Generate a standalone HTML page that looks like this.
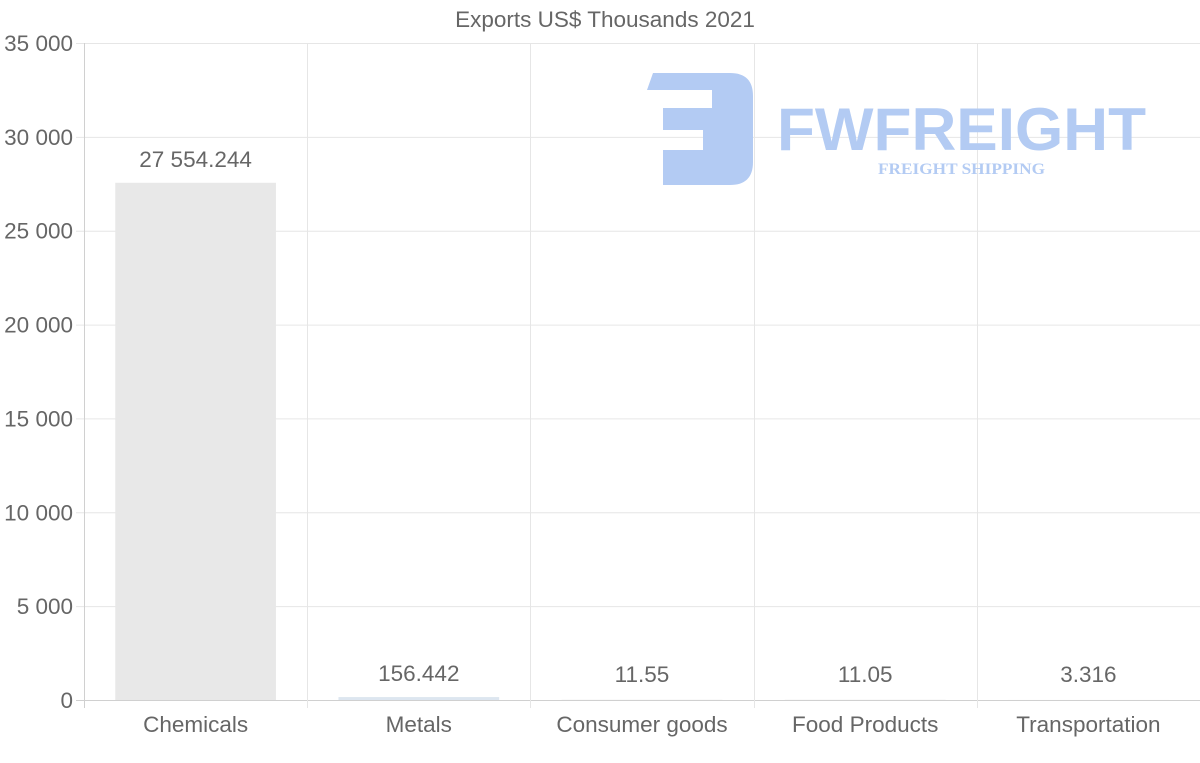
<!DOCTYPE html>
<html><head><meta charset="utf-8"><style>
html,body{margin:0;padding:0;background:#fff;}
svg{display:block;font-family:"Liberation Sans",sans-serif;}
</style></head><body>
<svg id="chart" width="1200" height="763">
<text x="605" y="27" text-anchor="middle" font-size="22.5" fill="#666">Exports US$ Thousands 2021</text>
<g id="grid"></g>
<g fill="#b3cbf3">
<path d="M653 73 L730 73 Q753 73 753 96 L753 162 Q753 185 730 185 L663 185 L663 150 L703 150 L703 130 L663 130 L663 108 L712 108 L712 90 L647 90 Z"/>
<text x="777" y="150" font-size="60" font-weight="bold" textLength="369" lengthAdjust="spacingAndGlyphs">FWFREIGHT</text>
<text x="878" y="174" font-size="16" font-weight="bold" font-family="Liberation Serif,serif" textLength="167" lengthAdjust="spacingAndGlyphs">FREIGHT SHIPPING</text>
</g>
<g id="bars"></g>
<g id="labels"></g>
</svg>
<script>
const categories = ["Chemicals","Metals","Consumer goods","Food Products","Transportation"];
const values = [27554.244,156.442,11.55,11.05,3.316];
const valueLabels = ["27 554.244","156.442","11.55","11.05","3.316"];
const yTicks = [0,5000,10000,15000,20000,25000,30000,35000];
const yTickLabels = ["0","5 000","10 000","15 000","20 000","25 000","30 000","35 000"];
const barColors = ["#e8e8e8","#dde6f0","#e8e8e8","#e8e8e8","#e8e8e8"];

const NS="http://www.w3.org/2000/svg";
const X0=84,X1=1200,Y0=700,YT=43,YMAX=35000,FS=22.5;
const bw=(X1-X0)/categories.length;
const y=v=>Y0-(v/YMAX)*(Y0-YT);
const xc=i=>X0+bw*(i+0.5);
function mk(tag,attrs,parent,txt){const e=document.createElementNS(NS,tag);for(const k in attrs)e.setAttribute(k,attrs[k]);if(txt!==undefined)e.textContent=txt;parent.appendChild(e);return e;}
const grid=document.getElementById('grid'),bars=document.getElementById('bars'),labels=document.getElementById('labels');
yTicks.forEach((t,i)=>{
  const l=mk('line',{x1:76,x2:X1,y1:y(t)+0.5,y2:y(t)+0.5,stroke:i===0?'#d0d0d0':'#e6e6e6','stroke-width':1},grid);
  
  
  const tx=mk('text',{x:73,y:y(t)+8,'text-anchor':'end','font-size':FS,fill:'#666'},labels,yTickLabels[i]);
  
  
});
for(let i=0;i<=categories.length;i++){
  const x=Math.round(X0+bw*i)+0.5;
  const l=mk('line',{x1:x,x2:x,y1:YT,y2:708,stroke:i===0?'#d0d0d0':'#e6e6e6','stroke-width':1},grid);
  
  
}
categories.forEach((c,i)=>{
  const w=bw*0.72,top=y(values[i]);
  const r=mk('rect',{x:xc(i)-w/2,y:top,width:w,height:Math.max(Y0-top,0),fill:barColors[i]},bars);
  
  
  const vl=mk('text',{x:xc(i),y:Math.min(top,Y0-2)-16,'text-anchor':'middle','font-size':FS,fill:'#666'},labels,valueLabels[i]);
  
  
  const cl=mk('text',{x:xc(i),y:732,'text-anchor':'middle','font-size':FS,fill:'#666'},labels,c);
  
  
});
</script>
</body></html>
